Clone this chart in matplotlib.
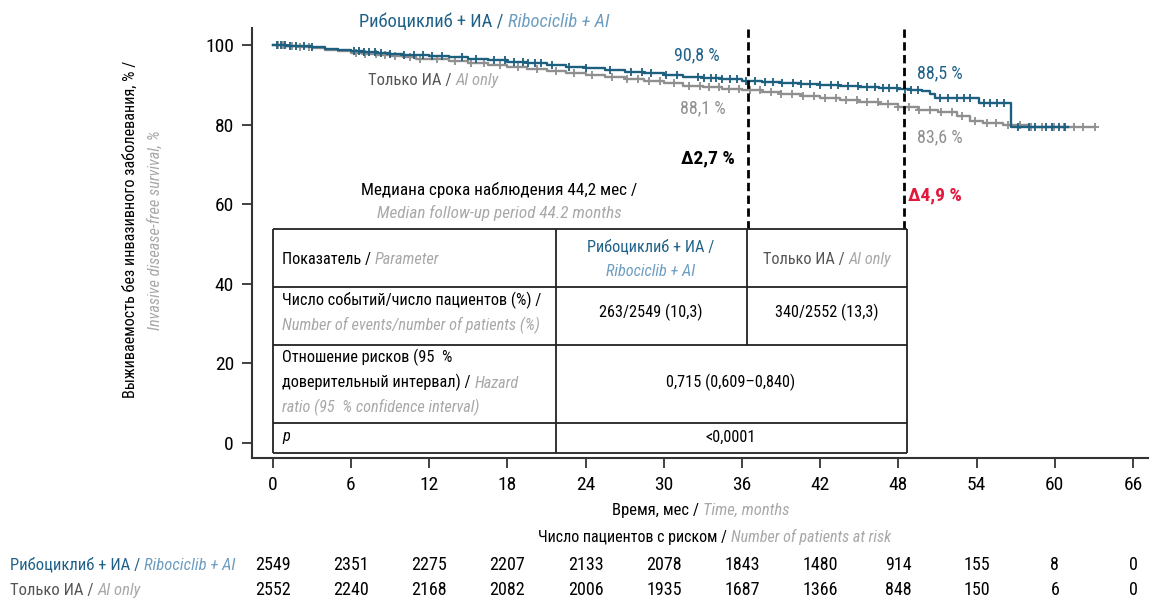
import numpy as np
import matplotlib
matplotlib.use("Agg")
import matplotlib.pyplot as plt
from matplotlib.offsetbox import TextArea, HPacker, AnnotationBbox
from matplotlib.transforms import blended_transform_factory

FONT = ["Roboto Condensed", "DejaVu Sans"]
plt.rcParams["font.family"] = FONT

BLUE = "#1d5f7e"
BLUE_T = "#1f6189"
BLUE_I = "#6d9dc0"
GRAY = "#8f8f8f"
GRAY_T = "#555555"
GRAY_I = "#a8a8a8"
RED = "#e2183d"
AXC = "#333333"
FS = 11.7
FL = 13

# Kaplan-Meier curves (months, survival %)
rib_t = [0, 1, 2, 3, 4, 5, 6, 7, 8, 9, 10, 11, 12, 13.5, 15, 16.5, 18, 19.5, 21,
         22.5, 24, 25.5, 27, 28.5, 30, 31.5, 33, 34.5, 36, 37.5, 39, 40.5, 42,
         43.5, 45, 46.5, 48, 49, 49.8, 50.4, 50.8, 53.8, 54.2, 56.6, 61.0]
rib_s = [100, 99.9, 99.7, 99.4, 99.1, 98.8, 98.6, 98.3, 98.0, 97.8, 97.6, 97.5,
         97.3, 97.0, 96.6, 96.2, 95.8, 95.5, 95.0, 94.6, 94.2, 93.8, 93.3, 92.9,
         92.5, 92.1, 91.8, 91.5, 91.1, 90.8, 90.5, 90.2, 89.9, 89.7, 89.5, 89.3,
         89.0, 88.8, 88.4, 87.6, 86.8, 86.6, 85.5, 79.5, 79.5]
ai_t = [0, 1, 2, 3, 4, 5, 6, 7, 8, 9, 10, 11, 12, 13.5, 15, 16.5, 18, 19.5, 21,
        22.5, 24, 25.5, 27, 28.5, 30, 31.5, 33, 34.5, 36, 37.5, 39, 40.5, 42,
        43.5, 45, 46.5, 48, 49.5, 51, 52.5, 53.5, 54.5, 56, 58, 63.1]
ai_s = [100, 99.8, 99.5, 99.2, 98.8, 98.5, 98.1, 97.8, 97.5, 97.2, 96.9, 96.6,
        96.4, 96.0, 95.5, 95.0, 94.5, 94.1, 93.6, 93.1, 92.6, 92.0, 91.4, 90.9,
        90.4, 89.8, 89.4, 89.0, 88.6, 88.1, 87.7, 87.3, 86.8, 86.3, 85.8, 85.2,
        84.4, 83.7, 83.1, 82.2, 81.0, 80.4, 80.0, 79.5, 79.5]

rib_cens = [0.3, 0.6, 0.9, 1.3, 1.8, 2.4, 3.0, 6.2, 6.6, 7.0, 7.4, 7.8, 8.3, 9.0,
            10.1, 10.8, 11.5, 12.2, 13.0, 14.5, 15.6, 17.0, 17.8, 18.5, 19.2,
            19.6, 20.1, 20.6, 21.4, 22.7, 24.0, 25.9, 27.5, 28.3, 29.0, 30.2,
            31.0, 32.6, 33.1, 33.6, 34.0, 34.5, 35.1, 35.6, 36.3, 37.0, 37.8,
            38.4, 39.1, 39.9, 40.5, 41.2, 42.0, 42.8, 43.4, 44.1, 44.9, 45.6,
            46.2, 46.8, 47.3, 47.9, 48.5, 49.0, 49.5, 51.2, 51.8, 52.5, 53.0,
            53.5, 54.6, 55.0, 55.6, 56.1, 57.2, 58.0, 58.5, 59.3, 59.8, 60.3, 60.8]
ai_cens = [0.4, 0.8, 1.5, 2.1, 2.8, 6.4, 7.1, 7.9, 8.6, 9.4, 10.5, 11.3, 12.6,
           14.0, 15.2, 16.2, 17.4, 18.8, 20.3, 21.7, 23.1, 24.5, 26.0, 27.2,
           28.0, 28.9, 29.7, 30.8, 31.9, 32.8, 33.5, 34.2, 35.0, 35.8, 36.6,
           37.4, 38.2, 39.0, 39.8, 40.7, 41.5, 42.4, 43.2, 44.0, 44.8, 45.6,
           46.4, 47.2, 48.0, 48.8, 49.6, 50.4, 51.3, 52.1, 52.9, 53.9, 54.8,
           55.5, 56.4, 57.3, 58.2, 59.0, 59.9, 60.7, 61.5, 62.2, 63.1]

months = [0, 6, 12, 18, 24, 30, 36, 42, 48, 54, 60, 66]
rib_risk = [2549, 2351, 2275, 2207, 2133, 2078, 1843, 1480, 914, 155, 8, 0]
ai_risk = [2552, 2240, 2168, 2082, 2006, 1935, 1687, 1366, 848, 150, 6, 0]

fig = plt.figure(figsize=(11.5, 6), dpi=100)
ax = fig.add_axes([252 / 1150, 1 - 458 / 600, 896 / 1150, 430 / 600])


def step_at(t, s, x):
    i = np.searchsorted(t, x, side="right") - 1
    return np.asarray(s)[i]


def rich(x, y, parts, ha="left", size=FS, trans=None):
    areas = [TextArea(s, textprops=dict(color=c, style=st, size=size, family=FONT))
             for s, c, st in parts]
    box = HPacker(children=areas, align="baseline", pad=0, sep=0)
    al = {"left": 0, "center": 0.5, "right": 1}[ha]
    ab = AnnotationBbox(box, (x, y), xycoords=trans or ax.transData,
                        box_alignment=(al, 0.5), frameon=False, pad=0,
                        annotation_clip=False)
    ax.add_artist(ab)


# curves
ax.plot(ai_t, ai_s, drawstyle="steps-post", color=GRAY, lw=1.7, zorder=3)
ax.plot(ai_cens, step_at(ai_t, ai_s, ai_cens), "+", color=GRAY, ms=5.5, mew=1.3, zorder=3)
ax.plot(rib_t, rib_s, drawstyle="steps-post", color=BLUE, lw=1.7, zorder=4)
ax.plot(rib_cens, step_at(rib_t, rib_s, rib_cens), "+", color=BLUE, ms=5.5, mew=1.3, zorder=4)

ax.set_xlim(-1.6, 67.15)
ax.set_ylim(-3.8, 104.3)
ax.set_xticks(months)
ax.set_yticks([0, 20, 40, 60, 80, 100])
ax.tick_params(direction="out", length=7, width=1.3, color=AXC, labelsize=14, pad=6)
for side in ["top", "right"]:
    ax.spines[side].set_visible(False)
for side in ["left", "bottom"]:
    ax.spines[side].set_color(AXC)
    ax.spines[side].set_linewidth(1.5)

# dashed markers at 36 and 48 months
ax.vlines([36.45, 48.4], 53.8, 104.5, colors="black", linestyles=(0, (3, 1.6)), lw=2, clip_on=False, zorder=5)

# table
tl, c1, c2, tr = 0, 21.7, 36.4, 48.65
rows = [53.8, 39.2, 24.6, 5.0, -2.5]
for y in rows:
    ax.hlines(y, tl, tr, color="#222222", lw=1.3, zorder=6)
ax.vlines([tl, tr], rows[-1], rows[0], color="#222222", lw=1.3, zorder=6)
ax.vlines([c1], rows[-1], rows[0], color="#222222", lw=1.3, zorder=6)
ax.vlines([c2], rows[2], rows[0], color="#222222", lw=1.3, zorder=6)
ax.add_patch(plt.Rectangle((tl, rows[-1]), tr - tl, rows[0] - rows[-1], color="white", zorder=2))

tx = 0.7
rich(tx, 46.2, [("Показатель / ", "black", "normal"), ("Parameter", GRAY_I, "italic")])
rich(29.0, 49.3, [("Рибоциклиб + ИА /", BLUE_T, "normal")], ha="center")
rich(29.0, 43.2, [("Ribociclib + AI", BLUE_I, "italic")], ha="center")
rich(42.5, 46.2, [("Только ИА / ", GRAY_T, "normal"), ("AI only", GRAY_I, "italic")], ha="center")
rich(tx, 35.9, [("Число событий/число пациентов (%) /", "black", "normal")])
rich(tx, 29.6, [("Number of events/number of patients (%)", GRAY_I, "italic")])
rich(29.0, 32.7, [("263/2549 (10,3)", "black", "normal")], ha="center")
rich(42.5, 32.7, [("340/2552 (13,3)", "black", "normal")], ha="center")
rich(tx, 21.6, [("Отношение рисков (95  %", "black", "normal")])
rich(tx, 15.1, [("доверительный интервал) / ", "black", "normal"), ("Hazard", GRAY_I, "italic")])
rich(tx, 8.8, [("ratio (95  % confidence interval)", GRAY_I, "italic")])
rich(35.1, 15.1, [("0,715 (0,609–0,840)", "black", "normal")], ha="center")
rich(tx, 1.5, [("p", "black", "italic")])
rich(35.1, 1.5, [("<0,0001", "black", "normal")], ha="center")

# annotations
rich(6.6, 105.8, [("Рибоциклиб + ИА / ", BLUE_T, "normal"), ("Ribociclib + AI", BLUE_I, "italic")], size=13.3)
rich(7.3, 91.2, [("Только ИА / ", GRAY_T, "normal"), ("AI only", GRAY_I, "italic")], size=12)
rich(32.5, 97.5, [("90,8 %", BLUE_T, "normal")], ha="center", size=FL)
rich(33.0, 84.2, [("88,1 %", GRAY, "normal")], ha="center", size=FL)
rich(51.2, 93.0, [("88,5 %", BLUE_T, "normal")], ha="center", size=FL)
rich(51.2, 76.9, [("83,6 %", GRAY, "normal")], ha="center", size=FL)
ax.text(35.45, 71.6, "∆2,7 %", ha="right", va="center", fontsize=14, fontweight="bold", color="black")
ax.text(48.7, 62.1, "∆4,9 %", ha="left", va="center", fontsize=14, fontweight="bold", color=RED)
rich(17.4, 63.6, [("Медиана срока наблюдения 44,2 мес /", "black", "normal")], ha="center", size=12.3)
rich(17.4, 57.8, [("Median follow-up period 44.2 months", GRAY_I, "italic")], ha="center", size=12.3)

# axis labels
fig.text(130 / 1150, 1 - 229 / 600, "Выживаемость без инвазивного заболевания, % /",
         rotation=90, ha="center", va="center", fontsize=11.7, color="black")
fig.text(155 / 1150, 1 - 230 / 600, "Invasive disease-free survival, %",
         rotation=90, ha="center", va="center", fontsize=11.7, color=GRAY_I, style="italic")

bt = blended_transform_factory(ax.transData, fig.transFigure)
rich(32.8, 1 - 510 / 600, [("Время, мес / ", "black", "normal"), ("Time, months", GRAY_I, "italic")],
     ha="center", size=12, trans=bt)
rich(33.9, 1 - 537 / 600, [("Число пациентов с риском / ", "black", "normal"),
                           ("Number of patients at risk", GRAY_I, "italic")], ha="center", size=11.5, trans=bt)

# numbers at risk
ft = fig.transFigure
rich(10 / 1150, 1 - 565 / 600, [("Рибоциклиб + ИА / ", BLUE_T, "normal"), ("Ribociclib + AI", BLUE_I, "italic")],
     size=12, trans=ft)
rich(10 / 1150, 1 - 590 / 600, [("Только ИА / ", GRAY_T, "normal"), ("AI only", GRAY_I, "italic")],
     size=12, trans=ft)
for m, a, b in zip(months, rib_risk, ai_risk):
    ax.text(m, 1 - 565 / 600, str(a), transform=bt, ha="center", va="center", fontsize=FL)
    ax.text(m, 1 - 590 / 600, str(b), transform=bt, ha="center", va="center", fontsize=FL)

fig.savefig("out.png", dpi=100)
